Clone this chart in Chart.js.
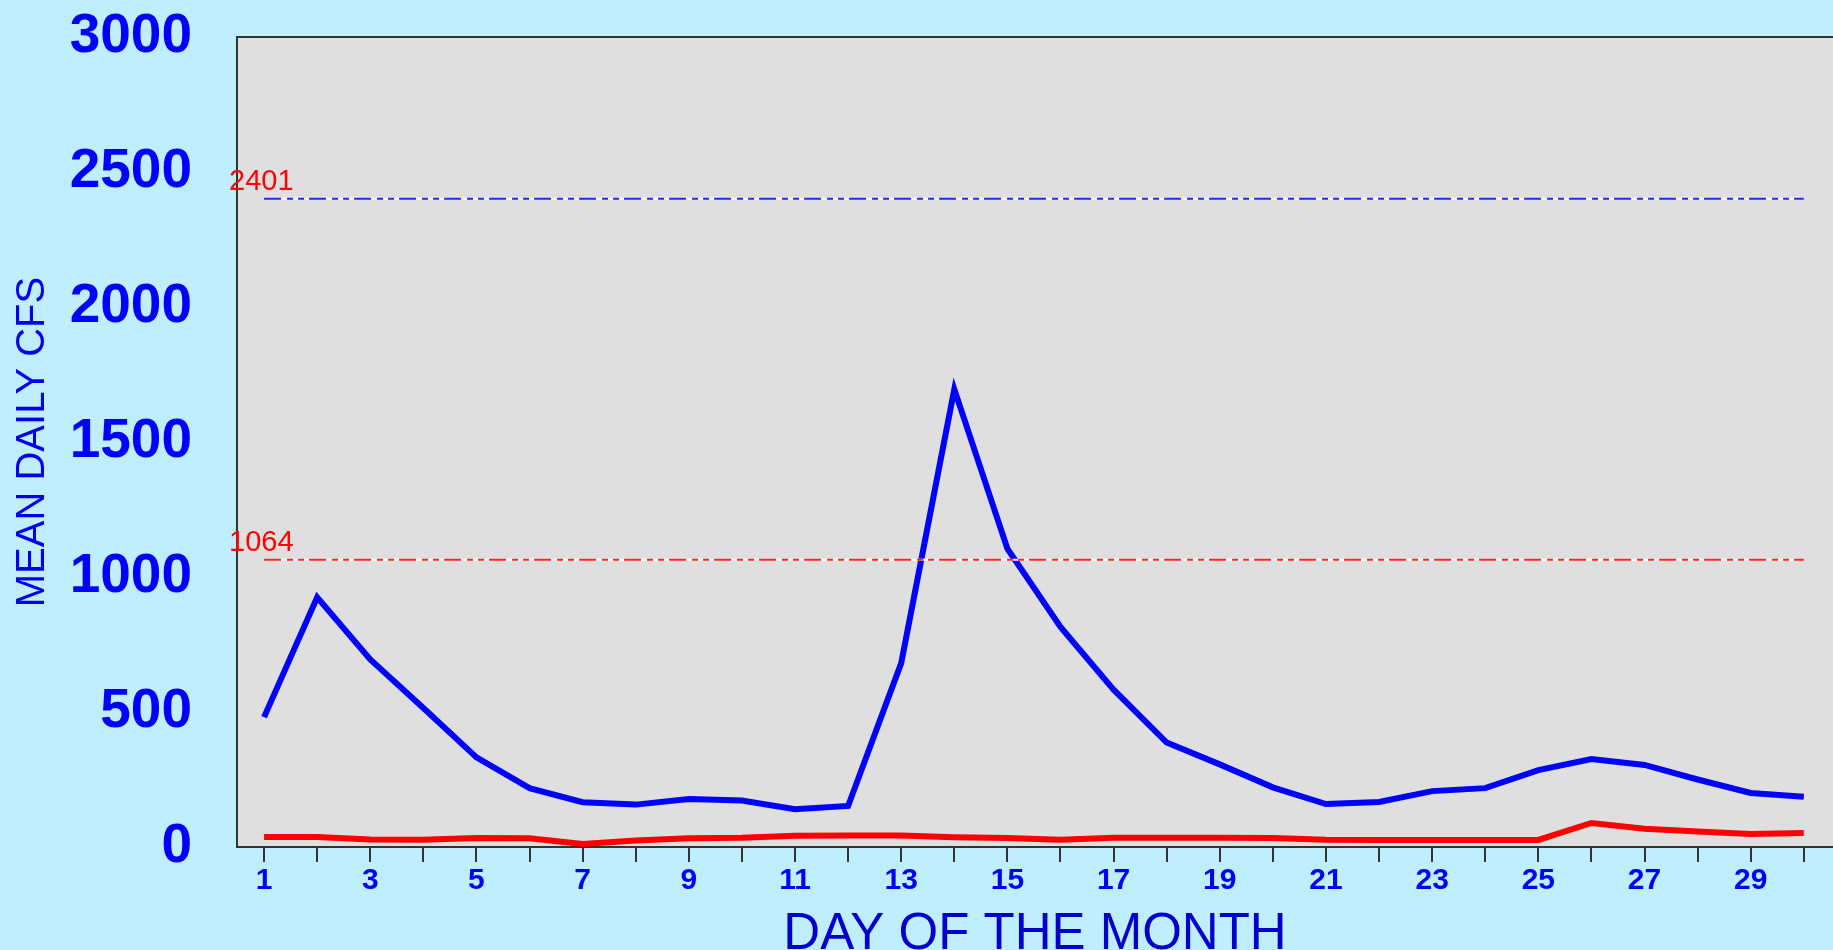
<!DOCTYPE html>
<html>
<head>
<meta charset="utf-8">
<title>Mean daily CFS</title>
<script src="https://cdn.jsdelivr.net/npm/chart.js@4.4.1/dist/chart.umd.min.js"></script>
<style>
  html, body { margin: 0; padding: 0; background: #BEEEFF; overflow: hidden; }
  #wrap { width: 1833px; height: 950px; }
</style>
</head>
<body>
<div id="wrap"><canvas id="flowChart" width="1833" height="950"></canvas></div>
<script>
const days = [1, 2, 3, 4, 5, 6, 7, 8, 9, 10, 11, 12, 13, 14, 15, 16, 17, 18, 19, 20, 21, 22, 23, 24, 25, 26, 27, 28, 29, 30];
const meanFlow = [481, 925, 695, 515, 332, 218, 166, 157, 178, 172, 140, 152, 681, 1695, 1105, 815, 583, 387, 306, 221, 159, 167, 207, 218, 285, 326, 304, 250, 200, 186];
const lowFlow = [37, 37, 28, 27, 33, 32, 11, 24, 32, 34, 42, 43, 43, 36, 33, 27, 34, 34, 34, 33, 27, 26, 26, 26, 26, 89, 68, 57, 48, 52];
const refValues = [2401, 1064];
const refLabels = ["2401", "1064"];
const refColors = ["#2424FF", "#FF2424"];
const yTicks = [0, 500, 1000, 1500, 2000, 2500, 3000];

const FONT = "'Liberation Sans', Arial, sans-serif";

function toPoints(values) {
  return values.map((v, i) => ({ x: days[i], y: v }));
}

// reference lines: white underlay + coloured dash-dot on top
const refSets = [];
refValues.forEach((v, i) => {
  const pts = [{ x: days[0], y: v }, { x: days[days.length - 1], y: v }];
  refSets.push({
    data: pts, borderColor: refColors[i], borderWidth: 2,
    borderDash: [17, 6, 6, 5, 6, 5], pointRadius: 0, order: 0
  });
  refSets.push({
    data: pts, borderColor: "#FFFFFF", borderWidth: 2, pointRadius: 0, order: 1
  });
});

const framePlugin = {
  id: "frame",
  beforeDraw(chart) {
    const { ctx, chartArea: a } = chart;
    ctx.save();
    ctx.fillStyle = "#BEEEFF";
    ctx.fillRect(0, 0, chart.width, chart.height);
    ctx.fillStyle = "#DFDFDF";
    ctx.fillRect(a.left, a.top, a.right - a.left, a.bottom - a.top);
    ctx.restore();
  },
  beforeDatasetsDraw(chart) {
    const { ctx, chartArea: a } = chart;
    ctx.save();
    ctx.strokeStyle = "#333333";
    ctx.lineWidth = 2;
    ctx.beginPath();
    ctx.moveTo(a.right, a.top);
    ctx.lineTo(a.left, a.top);
    ctx.lineTo(a.left, a.bottom);
    ctx.lineTo(a.right, a.bottom);
    ctx.stroke();
    ctx.restore();
  },
  afterDatasetsDraw(chart) {
    const { ctx, chartArea: a, scales: { y } } = chart;
    ctx.save();
    ctx.font = "29px " + FONT;
    ctx.fillStyle = "#FF0000";
    ctx.textAlign = "left";
    ctx.textBaseline = "alphabetic";
    refValues.forEach((v, i) => {
      ctx.fillText(refLabels[i], a.left - 8, y.getPixelForValue(v) - 9);
    });
    ctx.restore();
  }
};

new Chart(document.getElementById("flowChart"), {
  type: "line",
  data: {
    datasets: [
      ...refSets,
      { label: "Mean", data: toPoints(meanFlow), borderColor: "#0000FF", borderWidth: 6, pointRadius: 0, tension: 0, order: 2 },
      { label: "Low", data: toPoints(lowFlow), borderColor: "#FF0000", borderWidth: 6, pointRadius: 0, tension: 0, order: 3 }
    ]
  },
  options: {
    responsive: false,
    animation: false,
    layout: { padding: { top: 37, right: 0, left: 0, bottom: 0 } },
    plugins: { legend: { display: false }, tooltip: { enabled: false } },
    scales: {
      x: {
        type: "linear",
        min: 0.49,
        max: 30.55,
        afterBuildTicks: s => { s.ticks = days.map(d => ({ value: d })); },
        afterFit: s => { s.height = 103; s.paddingLeft = 0; s.paddingRight = 0; },
        border: { display: false },
        grid: { drawOnChartArea: false, drawTicks: true, tickLength: 15, color: "#333333", lineWidth: 2 },
        ticks: {
          autoSkip: false, maxRotation: 0, padding: 1,
          color: "#0000FF",
          font: { family: FONT, size: 30, weight: "bold" },
          callback: v => (v % 2 === 1 ? String(v) : "")
        },
        title: {
          display: true, text: "DAY OF THE MONTH", color: "#0000CC",
          font: { family: FONT, size: 51, lineHeight: 1 },
          padding: { top: 0, bottom: -10 }
        }
      },
      y: {
        min: 0,
        max: 3000,
        afterBuildTicks: s => { s.ticks = yTicks.map(v => ({ value: v })); },
        afterFit: s => { s.width = 237; s.paddingTop = 0; s.paddingBottom = 0; },
        border: { display: false },
        grid: { display: false, drawTicks: false },
        ticks: {
          padding: 45,
          color: "#0000FF",
          font: { family: FONT, size: 55, weight: "bold" },
          callback: v => String(v)
        },
        title: {
          display: true, text: "MEAN DAILY CFS", color: "#0000EE",
          font: { family: FONT, size: 40, lineHeight: 1.2 },
          padding: { top: 9, bottom: 0 }
        }
      }
    }
  },
  plugins: [framePlugin]
});
</script>
</body>
</html>
